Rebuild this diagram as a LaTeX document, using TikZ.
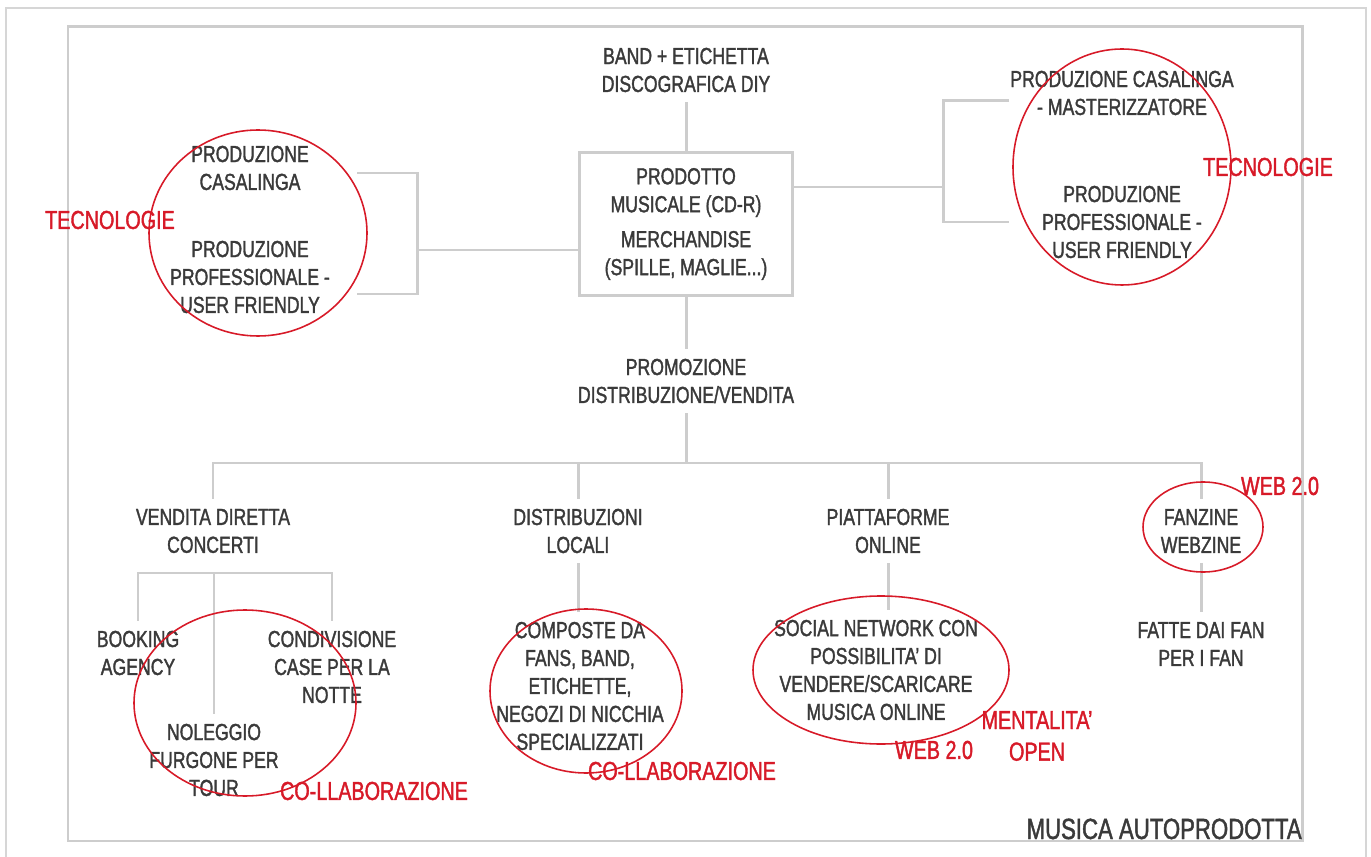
\documentclass[tikz,border=0pt]{standalone}
\usepackage{fontspec}
\setmainfont{Liberation Sans}[FakeStretch=0.76, FakeBold=1.5]
\usepackage{tikz}
\usepackage{xcolor}
\usetikzlibrary{positioning,calc}

\definecolor{txtgray}{HTML}{3A3A3A}
\definecolor{linegray}{HTML}{CDCDCD}
\definecolor{framegray}{HTML}{D6D6D6}
\definecolor{notered}{HTML}{D71A28}

\begin{document}
\begin{tikzpicture}[x=0.02cm, y=-0.02cm,
    lbl/.style={align=center, text=txtgray, inner sep=5.5pt, font=\fontsize{13.2}{15.9}\selectfont},
    note/.style={align=center, text=notered, inner sep=0pt, font=\fontsize{14.8}{18}\selectfont},
    link/.style={draw=linegray, line width=1.7pt},
    ring/.style={draw=notered, line width=0.9pt}]
    \useasboundingbox (0,0) rectangle (1371,857);

    % frames
    \draw[framegray, line width=1.1pt] (6,8) rectangle (1366,880);
    \draw[linegray, line width=1.7pt] (68,27) rectangle (1302,841);

    % centre column
    \node[lbl] (band) at (686,70) {BAND + ETICHETTA\\DISCOGRAFICA DIY};
    \node[lbl, draw=linegray, line width=1.7pt, minimum width=4.28cm, minimum height=2.88cm] (prod) at (686,224)
        {PRODOTTO\\MUSICALE (CD-R)\\[4pt]MERCHANDISE\\(SPILLE, MAGLIE...)};
    \node[lbl] (promo) at (686,381) {PROMOZIONE\\DISTRIBUZIONE/VENDITA};

    % production, both sides
    \node[lbl] (casaL) at (250,168) {PRODUZIONE\\CASALINGA};
    \node[lbl] (profL) at (250,277) {PRODUZIONE\\PROFESSIONALE -\\USER FRIENDLY};
    \node[lbl] (casaR) at (1122,93) {PRODUZIONE CASALINGA\\- MASTERIZZATORE};
    \node[lbl] (profR) at (1122,222) {PRODUZIONE\\PROFESSIONALE -\\USER FRIENDLY};

    % channels
    \node[lbl] (vend) at (213,531) {VENDITA DIRETTA\\CONCERTI};
    \node[lbl] (distr) at (578,531) {DISTRIBUZIONI\\LOCALI};
    \node[lbl] (piatt) at (888,531) {PIATTAFORME\\ONLINE};
    \node[lbl] (fanz) at (1201,531) {FANZINE\\WEBZINE};

    \node[lbl] (book) at (138,653) {BOOKING\\AGENCY};
    \node[lbl] (cond) at (332,667) {CONDIVISIONE\\CASE PER LA\\NOTTE};
    \node[lbl] (nole) at (214,760) {NOLEGGIO\\FURGONE PER\\TOUR};
    \node[lbl] (comp) at (580,686) {COMPOSTE DA\\FANS, BAND,\\ETICHETTE,\\NEGOZI DI NICCHIA\\SPECIALIZZATI};
    \node[lbl] (social) at (876,670) {SOCIAL NETWORK CON\\POSSIBILITA’ DI\\VENDERE/SCARICARE\\MUSICA ONLINE};
    \node[lbl] (fatte) at (1201,644) {FATTE DAI FAN\\PER I FAN};

    \node[anchor=base east, inner sep=0pt, text=txtgray, font=\fontsize{16.6}{20}\selectfont] (title) at (1302,839) {MUSICA AUTOPRODOTTA};

    % bracket and bus points
    \coordinate (lbr) at (417,250);
    \coordinate (casaLend) at (357,173);
    \coordinate (profLend) at (357,294);
    \coordinate (rbr) at (943,187);
    \coordinate (casaRend) at (1009,101);
    \coordinate (profRend) at (1009,222);
    \coordinate (bus) at (686,463);
    \coordinate (vsub) at (213,573);

    % connectors
    \draw[link] (band.south) -- (prod.north);
    \draw[link] (prod.south) -- (promo.north);
    \draw[link] (promo.south) -- (bus);
    \draw[link] (lbr) -- (lbr -| prod.west);
    \draw[link] (casaLend) -| (lbr) |- (profLend);
    \draw[link] (rbr -| prod.east) -- (rbr);
    \draw[link] (casaRend) -| (rbr) |- (profRend);
    \draw[link] (vend.north) |- (bus) -| (fanz.north);
    \draw[link] (distr.north) -- (distr.north |- bus);
    \draw[link] (piatt.north) -- (piatt.north |- bus);
    \draw[link] (book.north) |- (vsub) -| (cond.north);
    \draw[link] (nole.north) -- (nole.north |- vsub);
    \draw[link] (distr.south) -- (distr.south |- comp.north);
    \draw[link] (piatt.south) -- (piatt.south |- social.north);
    \draw[link] (fanz.south) -- (fatte.north);

    % red rings
    \draw[ring] (258,233) ellipse [x radius=109, y radius=103];
    \draw[ring] (1122,167) ellipse [x radius=109, y radius=118];
    \draw[ring] (245,703) ellipse [x radius=111, y radius=93];
    \draw[ring] (586,691) ellipse [x radius=96, y radius=82];
    \draw[ring] (881,670) ellipse [x radius=128, y radius=74];
    \draw[ring] (1203,527) ellipse [x radius=60, y radius=45];

    % red notes
    \node[note] (tecL) at (110,220) {TECNOLOGIE};
    \node[note] (tecR) at (1268,167) {TECNOLOGIE};
    \node[note] (coll1) at (374,791) {CO-LLABORAZIONE};
    \node[note] (coll2) at (682,771) {CO-LLABORAZIONE};
    \node[note] (web1) at (934,750) {WEB 2.0};
    \node[note] (ment) at (1037,736) {MENTALITA’\\OPEN};
    \node[note] (web2) at (1280,486) {WEB 2.0};
\end{tikzpicture}
\end{document}
